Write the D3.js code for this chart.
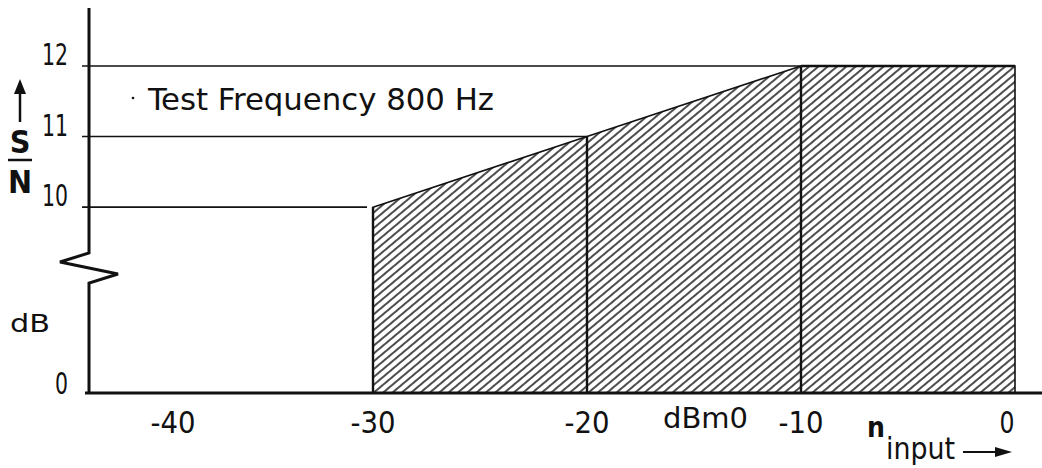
<!DOCTYPE html>
<html>
<head>
<meta charset="utf-8">
<script src="https://cdn.jsdelivr.net/npm/d3@7"></script>
<style>
  body { margin: 0; background: #fff; }
  svg text { font-family: "DejaVu Sans Condensed", "Liberation Sans Narrow", "DejaVu Sans", sans-serif; fill: #111; }
</style>
</head>
<body>
<div id="chart"></div>
<script>
// input level (dBm0) and S/N (dB)
const levels = [-30, -20, -10, 0];
const snr = [10, 11, 12, 12];
const xTicks = [-40, -30, -20, -10, 0];
const yTicks = [0, 10, 11, 12];

const width = 1042, height = 468;

const svg = d3.select("#chart")
    .append("svg")
    .attr("width", width)
    .attr("height", height);

const x = d3.scaleLinear()
    .domain([-30, 0])
    .range([373, 1015]);

// broken axis: 0 sits below the break, 10..12 above it
const y = d3.scaleLinear()
    .domain([0, 8.5, 12])
    .range([393, 313, 66]);

const axisX = 89;

// hatch pattern
const defs = svg.append("defs");
const pat = defs.append("pattern")
    .attr("id", "hatch")
    .attr("patternUnits", "userSpaceOnUse")
    .attr("width", 6)
    .attr("height", 10)
    .attr("patternTransform", "rotate(50)");
pat.append("line")
    .attr("x1", 1).attr("y1", 0)
    .attr("x2", 1).attr("y2", 10)
    .attr("stroke", "#111")
    .attr("stroke-width", 1.5);

// horizontal reference lines, from axis to where the curve reaches the level
yTicks.filter(v => v > 0).forEach(v => {
    const i = snr.indexOf(v);
    svg.append("line")
        .attr("x1", 82)
        .attr("x2", x(levels[i]) - (i === 0 ? 6 : 0))
        .attr("y1", y(v))
        .attr("y2", y(v))
        .attr("stroke", "#111")
        .attr("stroke-width", 1.6);
});

// hatched region
const area = d3.area()
    .x((d, i) => x(levels[i]))
    .y0(y(0))
    .y1(d => y(d));

svg.append("path")
    .datum(snr)
    .attr("d", area)
    .attr("fill", "url(#hatch)")
    .attr("stroke", "#111")
    .attr("stroke-width", 1.6);

// thick top edge on the flat part
svg.append("line")
    .attr("x1", x(-10)).attr("x2", x(0))
    .attr("y1", y(12)).attr("y2", y(12))
    .attr("stroke", "#111")
    .attr("stroke-width", 2.6);

// vertical dividers
svg.selectAll(".divider")
    .data(levels.slice(0, 3))
    .enter()
    .append("line")
    .attr("class", "divider")
    .attr("x1", d => x(d)).attr("x2", d => x(d))
    .attr("y1", y(0))
    .attr("y2", (d, i) => y(snr[i]))
    .attr("stroke", "#111")
    .attr("stroke-width", 2.4);

// y axis with break
svg.append("path")
    .attr("d", `M${axisX},8 V253 L60,262 L118,274 L${axisX},283 V${y(0)}`)
    .attr("fill", "none")
    .attr("stroke", "#111")
    .attr("stroke-width", 3);

// x axis
svg.append("line")
    .attr("x1", 85).attr("x2", 1042)
    .attr("y1", y(0)).attr("y2", y(0))
    .attr("stroke", "#111")
    .attr("stroke-width", 3);

// tick labels (narrow lettering)
svg.append("g")
    .selectAll("text")
    .data(yTicks)
    .enter()
    .append("text")
    .attr("x", 68)
    .attr("y", d => y(d) + (d === 0 ? 1 : -1))
    .attr("text-anchor", "end")
    .attr("textLength", d => String(d).length * 13)
    .attr("lengthAdjust", "spacingAndGlyphs")
    .style("font-size", "31px")
    .text(d => d);

svg.append("g")
    .selectAll("text")
    .data(xTicks)
    .enter()
    .append("text")
    .attr("x", d => x(d) + (d === -40 ? 14 : d === 0 ? -8 : 0))
    .attr("y", 433)
    .attr("text-anchor", "middle")
    .attr("textLength", d => String(d).length * 15)
    .attr("lengthAdjust", "spacingAndGlyphs")
    .style("font-size", "31px")
    .text(d => d);

// annotation
svg.append("circle")
    .attr("cx", 133).attr("cy", 98).attr("r", 1.3).attr("fill", "#111");
svg.append("text")
    .attr("x", 148)
    .attr("y", 110)
    .attr("textLength", 346)
    .attr("lengthAdjust", "spacingAndGlyphs")
    .style("font-size", "31px")
    .text("Test Frequency 800 Hz");

// S/N label with arrow
svg.append("line")
    .attr("x1", 20).attr("x2", 20)
    .attr("y1", 90).attr("y2", 122)
    .attr("stroke", "#111").attr("stroke-width", 2.5);
svg.append("path")
    .attr("d", "M14,94 L20,79 L26,94 Z")
    .attr("fill", "#111");
svg.append("text")
    .attr("x", 20).attr("y", 153)
    .attr("text-anchor", "middle")
    .style("font-size", "32px")
    .style("font-weight", "bold")
    .text("S");
svg.append("line")
    .attr("x1", 8).attr("x2", 32)
    .attr("y1", 160).attr("y2", 160)
    .attr("stroke", "#111").attr("stroke-width", 2.5);
svg.append("text")
    .attr("x", 20).attr("y", 193)
    .attr("text-anchor", "middle")
    .style("font-size", "32px")
    .style("font-weight", "bold")
    .text("N");

svg.append("text")
    .attr("x", 10).attr("y", 332)
    .attr("textLength", 40)
    .attr("lengthAdjust", "spacingAndGlyphs")
    .style("font-size", "25px")
    .text("dB");

// x axis title
svg.append("text")
    .attr("x", 663).attr("y", 428)
    .attr("textLength", 85)
    .attr("lengthAdjust", "spacingAndGlyphs")
    .style("font-size", "28px")
    .text("dBm0");
svg.append("text")
    .attr("x", 867).attr("y", 437)
    .style("font-size", "28px")
    .style("font-weight", "bold")
    .text("n");
svg.append("text")
    .attr("x", 886).attr("y", 459)
    .attr("textLength", 69)
    .attr("lengthAdjust", "spacingAndGlyphs")
    .style("font-size", "30px")
    .text("input");
svg.append("line")
    .attr("x1", 963).attr("x2", 1000)
    .attr("y1", 452).attr("y2", 452)
    .attr("stroke", "#111").attr("stroke-width", 2);
svg.append("path")
    .attr("d", "M995,447 L1012,452 L995,457 Z")
    .attr("fill", "#111");
</script>
</body>
</html>
